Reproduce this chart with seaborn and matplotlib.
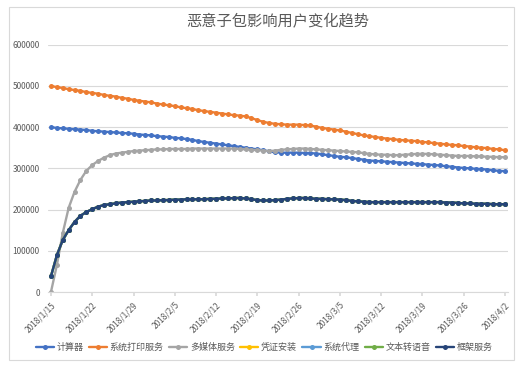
import pandas as pd
import numpy as np
import matplotlib
matplotlib.use('Agg')
import matplotlib.pyplot as plt
from matplotlib.patches import Rectangle
import seaborn as sns


dates = pd.date_range('2018-01-15', '2018-04-02', freq='D')

series_names = ['计算器', '系统打印服务', '多媒体服务', '凭证安装', '系统代理', '文本转语音', '框架服务']
series_colors = ['#4472C4', '#ED7D31', '#A5A5A5', '#FFC000', '#5B9BD5', '#70AD47', '#264478']

calculator = [
    400000, 398000, 397000, 396000, 395000, 394000, 393000, 391000, 390000, 389000,
    388000, 387000, 386000, 385000, 384000, 382000, 381000, 380000, 378000, 377000,
    376000, 374000, 373000, 371000, 369000, 366000, 364000, 362000, 360000, 358000,
    356000, 354000, 352000, 350000, 348000, 346000, 344000, 341000, 339000, 338000,
    338000, 338000, 338000, 337000, 337000, 336000, 334000, 332000, 330000, 328000,
    327000, 325000, 323000, 321000, 319000, 318000, 317000, 316000, 315000, 314000,
    313000, 312000, 311000, 310000, 309000, 308000, 307000, 305000, 304000, 302000,
    301000, 300000, 299000, 298000, 297000, 295000, 294000, 293000,
]

print_service = [
    500000, 497000, 495000, 492000, 490000, 488000, 485000, 483000, 481000, 478000,
    476000, 474000, 471000, 469000, 466000, 464000, 462000, 460000, 457000, 455000,
    453000, 451000, 448000, 446000, 444000, 441000, 439000, 437000, 435000, 433000,
    431000, 429000, 428000, 426000, 422000, 417000, 413000, 410000, 408000, 407000,
    406000, 406000, 406000, 405000, 404000, 401000, 398000, 396000, 394000, 392000,
    389000, 386000, 383000, 380000, 378000, 376000, 374000, 372000, 371000, 369000,
    368000, 367000, 366000, 364000, 363000, 361000, 360000, 358000, 357000, 356000,
    354000, 353000, 351000, 350000, 349000, 347000, 346000, 344000,
]

media_service = [
    0, 65000, 143000, 204000, 243000, 272000, 294000, 308000, 318000, 326000,
    332000, 336000, 338000, 340000, 342000, 343000, 344000, 345000, 346000, 346000,
    347000, 347000, 347000, 347000, 348000, 348000, 348000, 348000, 348000, 348000,
    348000, 348000, 347000, 346000, 345000, 344000, 343000, 342000, 343000, 345000,
    346000, 347000, 348000, 348000, 347000, 346000, 345000, 344000, 343000, 342000,
    341000, 340000, 339000, 337000, 335000, 334000, 333000, 333000, 332000, 332000,
    333000, 334000, 335000, 335000, 335000, 334000, 333000, 332000, 331000, 330000,
    330000, 330000, 329000, 329000, 328000, 328000, 327000, 327000,
]

framework_service = [
    38000, 89000, 126000, 150000, 170000, 185000, 194000, 201000, 207000, 211000,
    213000, 215000, 217000, 218000, 219000, 220000, 221000, 222000, 222000, 223000,
    223000, 224000, 224000, 225000, 225000, 225000, 225000, 226000, 226000, 227000,
    227000, 228000, 228000, 227000, 225000, 223000, 222000, 222000, 223000, 224000,
    226000, 227000, 228000, 228000, 227000, 226000, 226000, 225000, 225000, 224000,
    223000, 221000, 220000, 219000, 218000, 218000, 218000, 218000, 218000, 218000,
    218000, 218000, 218000, 218000, 218000, 218000, 218000, 217000, 217000, 216000,
    215000, 215000, 214000, 214000, 214000, 213000, 213000, 213000,
]

# hidden under 框架服务 in the picture
cert_install = framework_service
sys_proxy = framework_service
tts_service = framework_service

values = [calculator, print_service, media_service, cert_install, sys_proxy, tts_service, framework_service]
for v in values:
    assert len(v) == len(dates), len(v)

df = pd.concat(
    [pd.DataFrame({'date': dates, 'value': v, 'series': name}) for name, v in zip(series_names, values)],
    ignore_index=True,
)

sns.set_theme(style='white')
plt.rcParams['font.family'] = ['Noto Sans CJK SC', 'DejaVu Sans']

fig = plt.figure(figsize=(5.25, 3.66), dpi=100)
ax = fig.add_axes([48 / 525, 1 - 292 / 366, 460 / 525, (292 - 44.7) / 366])

sns.lineplot(
    data=df, x='date', y='value', hue='series', hue_order=series_names,
    palette=series_colors, marker='o', markersize=3.6, markeredgewidth=0,
    linewidth=1.7, ax=ax, sort=False,
)

ax.set_ylim(0, 600000)
ax.set_yticks(range(0, 600001, 100000))
ax.set_xlim(dates[0] - pd.Timedelta(days=0.5), dates[-1] + pd.Timedelta(days=0.5))
tick_dates = pd.date_range('2018-01-15', '2018-04-02', freq='7D')
ax.set_xticks(tick_dates)
ax.set_xticklabels([f'{d.year}/{d.month}/{d.day}' for d in tick_dates],
                   rotation=45, ha='right', rotation_mode='anchor', fontsize=6, color='#595959')
ax.tick_params(axis='y', labelsize=6, colors='#595959', length=0, pad=6)
ax.tick_params(axis='x', length=3, color='#D9D9D9', pad=3, bottom=True)
ax.set_xlabel('')
ax.set_ylabel('')
ax.grid(axis='y', color='#D9D9D9', linewidth=0.8)
ax.grid(axis='x', visible=False)
for side in ['top', 'right', 'left']:
    ax.spines[side].set_visible(False)
ax.spines['bottom'].set_color('#D9D9D9')
ax.spines['bottom'].set_linewidth(0.8)

ax.set_title('恶意子包影响用户变化趋势', fontsize=11, color='#595959', pad=14)

handles, labels = ax.get_legend_handles_labels()
ax.legend(handles, labels, loc='center', bbox_to_anchor=(0.47, -0.225), ncol=7,
          frameon=False, fontsize=6.5, handlelength=2.0, handletextpad=0.3,
          columnspacing=0.6, labelcolor='#595959')

fig.patches.append(Rectangle((9 / 525, 1 - 360 / 366), 505 / 525, 353 / 366,
                             transform=fig.transFigure, fill=False,
                             edgecolor='#D9D9D9', linewidth=0.8))

fig.savefig('out.png', dpi=100, facecolor='white')
